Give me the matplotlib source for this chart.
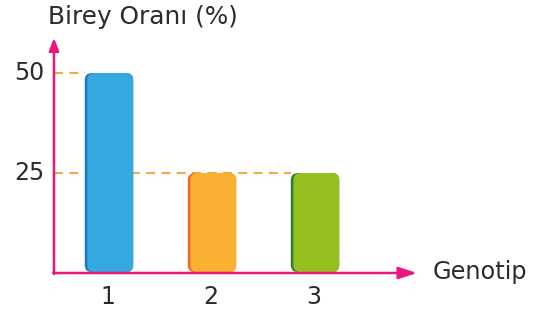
import matplotlib
matplotlib.use("Agg")
import matplotlib.pyplot as plt
from matplotlib.patches import FancyBboxPatch

categories = ["1", "2", "3"]
values = [50, 25, 25]
yticks = [25, 50]
colors = ["#35a8e0", "#f8b133", "#93c01f"]
edge_colors = ["#1f78c1", "#ee6a2a", "#2e7d32"]

plt.rcParams['font.family'] = ['DejaVu Sans']
fig = plt.figure(figsize=(5.44, 3.10), dpi=100)
ax = fig.add_axes([0, 0, 1, 1])
ax.set_xlim(-0.058, 5.223)
ax.set_ylim(-9.25, 68.25)
ax.axis('off')

pink = "#e8177f"
orange = "#f5a02a"
txt = "#2b2b2b"
x0_axis = 0.466
x_tip = 3.99
y_tip = 58.75

bw = 0.47
xs = [i + 1 for i in range(len(categories))]

# dashed guide lines
ax.plot([x0_axis, xs[0] - bw / 2], [values[0]] * 2, color=orange, lw=1.3,
        dashes=(5, 3.5), zorder=1)
ax.plot([x0_axis, xs[2] - bw / 2], [values[1]] * 2, color=orange, lw=1.3,
        dashes=(5, 3.5), zorder=1)

rs = 0.07
asp = 1.8 / 0.07
for x, v, c, ec, lab in zip(xs, values, colors, edge_colors, categories):
    left = x - bw / 2
    ax.add_patch(FancyBboxPatch((left, 0.2), bw, v - 0.2,
                                boxstyle=f"round,pad=0,rounding_size={rs}",
                                mutation_aspect=asp, fc=ec, ec='none', zorder=2))
    ax.add_patch(FancyBboxPatch((left + 0.025, 0.2), bw - 0.025, v - 0.2,
                                boxstyle=f"round,pad=0,rounding_size={rs}",
                                mutation_aspect=asp, fc=c, ec='none', zorder=3))
    ax.text(x - 0.01, -6.0, lab, ha='center', va='center',
            fontsize=17, color=txt)

# axes with arrows
ax.annotate('', xy=(x0_axis, y_tip), xytext=(x0_axis, -0.25),
            arrowprops=dict(arrowstyle='-|>,head_length=0.75,head_width=0.3',
                            color=pink, lw=1.8, shrinkA=0, shrinkB=0), zorder=5)
ax.annotate('', xy=(x_tip, 0), xytext=(x0_axis - 0.008, 0),
            arrowprops=dict(arrowstyle='-|>,head_length=1.1,head_width=0.36',
                            color=pink, lw=1.8, shrinkA=0, shrinkB=0), zorder=5)

for t in yticks:
    ax.text(0.227, t, str(t), ha='center', va='center', fontsize=17, color=txt)

ax.text(0.405, 62.25, "Birey Oranı (%)", ha='left', va='baseline', fontsize=17.8,
        color=txt)
ax.text(4.14, -1.5, "Genotip", ha='left', va='baseline', fontsize=17.3, color=txt)

fig.savefig("out.png", dpi=100)
